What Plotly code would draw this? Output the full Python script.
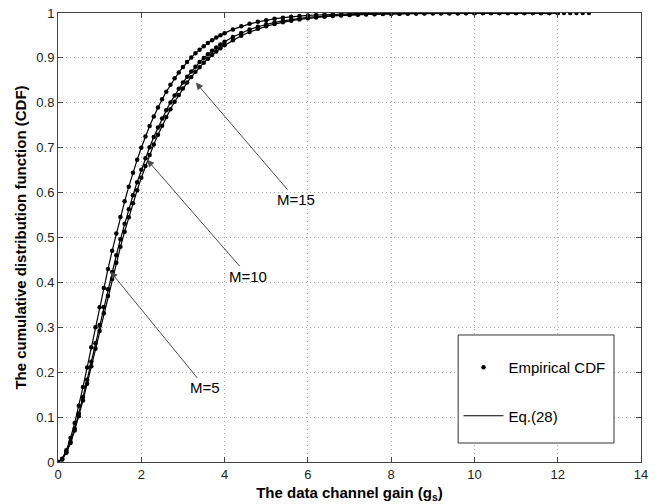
import plotly.graph_objects as go

# x positions of the sampled points (data channel gain g_s)
x_vals = [0.0, 0.1, 0.2, 0.3, 0.4, 0.5, 0.6, 0.7, 0.8, 0.9,
          1.0, 1.1, 1.2, 1.3, 1.4, 1.5, 1.6, 1.7, 1.8, 1.9,
          2.0, 2.1, 2.2, 2.3, 2.4, 2.5, 2.6, 2.7, 2.8, 2.9,
          3.0, 3.1, 3.2, 3.3, 3.4, 3.5, 3.6, 3.7, 3.8, 3.9,
          4.0, 4.2, 4.4, 4.6, 4.8, 5.0, 5.2, 5.4, 5.6, 5.8,
          6.0, 6.2, 6.4, 6.6, 6.8, 7.0, 7.2, 7.4, 7.6, 7.8,
          8.0, 8.2, 8.4, 8.6, 8.8, 9.0, 9.2, 9.4, 9.6, 9.8,
          10.0, 10.2, 10.4, 10.6, 10.8, 11.0, 11.2, 11.4, 11.6, 11.8,
          12.0]

# CDF: leftmost curve
cdf_left = [0.0, 0.0075, 0.026, 0.0532, 0.0867, 0.1252, 0.1670, 0.2107, 0.2553, 0.3001,
            0.3444, 0.3877, 0.4297, 0.4703, 0.5090, 0.5457, 0.5805, 0.6133, 0.6442, 0.6730,
            0.6998, 0.7249, 0.7481, 0.7697, 0.7896, 0.8077, 0.8247, 0.8401, 0.8547, 0.8676,
            0.8797, 0.8908, 0.9007, 0.9101, 0.9184, 0.9260, 0.9331, 0.9393, 0.9452, 0.9504,
            0.9551, 0.9635, 0.9703, 0.9758, 0.9803, 0.9840, 0.9871, 0.9895, 0.9915, 0.9932,
            0.9945, 0.9955, 0.9964, 0.9971, 0.9977, 0.9981, 0.9985, 0.9988, 0.9990, 0.9992,
            0.9994, 0.9995, 0.9996, 0.9997, 0.9997, 0.9998, 0.9998, 0.9999, 0.9999, 0.9999,
            0.9999, 1.0, 1.0, 1.0, 1.0, 1.0, 1.0, 1.0, 1.0, 1.0,
            1.0]

# middle curve
cdf_mid = [0.0, 0.0061, 0.0218, 0.0451, 0.0743, 0.1078, 0.1445, 0.1834, 0.2235, 0.2642,
           0.3050, 0.3453, 0.3848, 0.4233, 0.4605, 0.4962, 0.5304, 0.5630, 0.5940, 0.6232,
           0.6507, 0.6766, 0.7010, 0.7238, 0.7451, 0.7650, 0.7836, 0.8009, 0.8164, 0.8315,
           0.8450, 0.8579, 0.8696, 0.8804, 0.8906, 0.8996, 0.9084, 0.9160, 0.9233, 0.9298,
           0.9359, 0.9466, 0.9555, 0.9632, 0.9694, 0.9747, 0.9790, 0.9826, 0.9857, 0.9882,
           0.9902, 0.9920, 0.9934, 0.9946, 0.9955, 0.9963, 0.9970, 0.9975, 0.9980, 0.9983,
           0.9986, 0.9989, 0.9991, 0.9993, 0.9994, 0.9995, 0.9996, 0.9997, 0.9997, 0.9998,
           0.9998, 0.9999, 0.9999, 0.9999, 0.9999, 1.0, 1.0, 1.0, 1.0, 1.0,
           1.0]

# rightmost curve
cdf_right = [0.0, 0.0056, 0.0205, 0.0425, 0.0702, 0.1021, 0.1372, 0.1745, 0.2131, 0.2524,
             0.2919, 0.3311, 0.3697, 0.4074, 0.4440, 0.4792, 0.5130, 0.5453, 0.5761, 0.6053,
             0.6330, 0.6592, 0.6839, 0.7070, 0.7288, 0.7491, 0.7682, 0.7859, 0.8024, 0.8174,
             0.8319, 0.8450, 0.8575, 0.8689, 0.8794, 0.8893, 0.8982, 0.9067, 0.9143, 0.9216,
             0.9279, 0.9395, 0.9493, 0.9576, 0.9647, 0.9705, 0.9754, 0.9795, 0.9830, 0.9858,
             0.9882, 0.9902, 0.9919, 0.9933, 0.9944, 0.9954, 0.9962, 0.9969, 0.9974, 0.9979,
             0.9982, 0.9985, 0.9988, 0.9990, 0.9992, 0.9993, 0.9995, 0.9996, 0.9996, 0.9997,
             0.9997, 0.9998, 0.9998, 0.9999, 0.9999, 0.9999, 0.9999, 1.0, 1.0, 1.0,
             1.0]

# empirical tail samples of the rightmost curve
tail_x = [12.15, 12.3, 12.45, 12.6, 12.75]
tail_y = [1.0, 1.0, 1.0, 1.0, 1.0]

curves = [cdf_left, cdf_mid, cdf_right]

# tick values and labels
x_ticks = [0, 2, 4, 6, 8, 10, 12, 14]
y_ticks = [0, 0.1, 0.2, 0.3, 0.4, 0.5, 0.6, 0.7, 0.8, 0.9, 1]
y_tick_text = ["0", "0.1", "0.2", "0.3", "0.4", "0.5", "0.6", "0.7", "0.8", "0.9", "1"]

# annotation labels with arrow tip and label position (data coordinates)
labels = ["M=15", "M=10", "M=5"]
tip_x = [3.31, 2.14, 1.26]
tip_y = [0.845, 0.673, 0.424]
text_x = [5.72, 4.57, 3.54]
text_y = [0.584, 0.414, 0.165]

FONT = "Liberation Sans, Arial, Helvetica, sans-serif"

fig = go.Figure()

for i, cy in enumerate(curves):
    fig.add_trace(go.Scatter(
        x=x_vals, y=cy, mode="lines",
        line=dict(color="black", width=1.2),
        name="Eq.(28)", legendgroup="eq", legendrank=2,
        showlegend=(i == 0), hoverinfo="skip"))

for i, cy in enumerate(curves):
    xs = x_vals + (tail_x if i == 2 else [])
    ys = cy + (tail_y if i == 2 else [])
    fig.add_trace(go.Scatter(
        x=xs, y=ys, mode="markers",
        marker=dict(color="black", size=4.5),
        name="Empirical CDF", legendgroup="emp", legendrank=1,
        showlegend=(i == 0)))

for t, tx, ty, lx, ly in zip(labels, tip_x, tip_y, text_x, text_y):
    fig.add_annotation(
        x=tx, y=ty, ax=lx, ay=ly, axref="x", ayref="y", xref="x", yref="y",
        text=t, showarrow=True, arrowhead=2, arrowsize=1.4, arrowwidth=1,
        arrowcolor="#4a4a4a", font=dict(family=FONT, size=15, color="black"))

# legend frame (white box like the original)
fig.add_shape(type="rect", xref="paper", yref="paper",
              x0=0.6864, x1=0.9537, y0=0.0423, y1=0.2829,
              line=dict(color="#333333", width=1), fillcolor="white", layer="above")

axis_common = dict(
    showline=True, linecolor="#444444", linewidth=1, mirror="ticks",
    ticks="inside", ticklen=5, tickcolor="#444444",
    showgrid=True, gridcolor="#aaaaaa", griddash="1px,3px", gridwidth=1,
    zeroline=False, ticklabeloverflow="allow",
    tickfont=dict(family=FONT, size=13, color="#222222"),
)

fig.update_xaxes(range=[0, 14], tickmode="array", tickvals=x_ticks,
                 ticktext=[str(v) for v in x_ticks],
                 title=dict(text="<b>The data channel gain (g<sub>s</sub>)</b>",
                            font=dict(family=FONT, size=15, color="black"), standoff=6),
                 **axis_common)
fig.update_yaxes(range=[0, 1], tickmode="array", tickvals=y_ticks, ticktext=y_tick_text,
                 title=dict(text="<b>The cumulative distribution function (CDF)</b>",
                            font=dict(family=FONT, size=15, color="black"), standoff=6),
                 **axis_common)

fig.update_layout(
    width=661, height=504,
    margin=dict(l=58, r=20, t=13, b=42, autoexpand=False),
    paper_bgcolor="white", plot_bgcolor="white",
    font=dict(family=FONT, size=15, color="black"),
    legend=dict(x=0.687, y=0.2472, xanchor="left", yanchor="top",
                bgcolor="rgba(0,0,0,0)", borderwidth=0,
                traceorder="grouped", tracegroupgap=26, itemwidth=40,
                font=dict(family=FONT, size=15, color="black")),
    showlegend=True,
)

fig.write_html("out.html",
               config={"displayModeBar": False},
               post_script="document.body.style.margin='0';document.body.style.overflow='hidden';")
